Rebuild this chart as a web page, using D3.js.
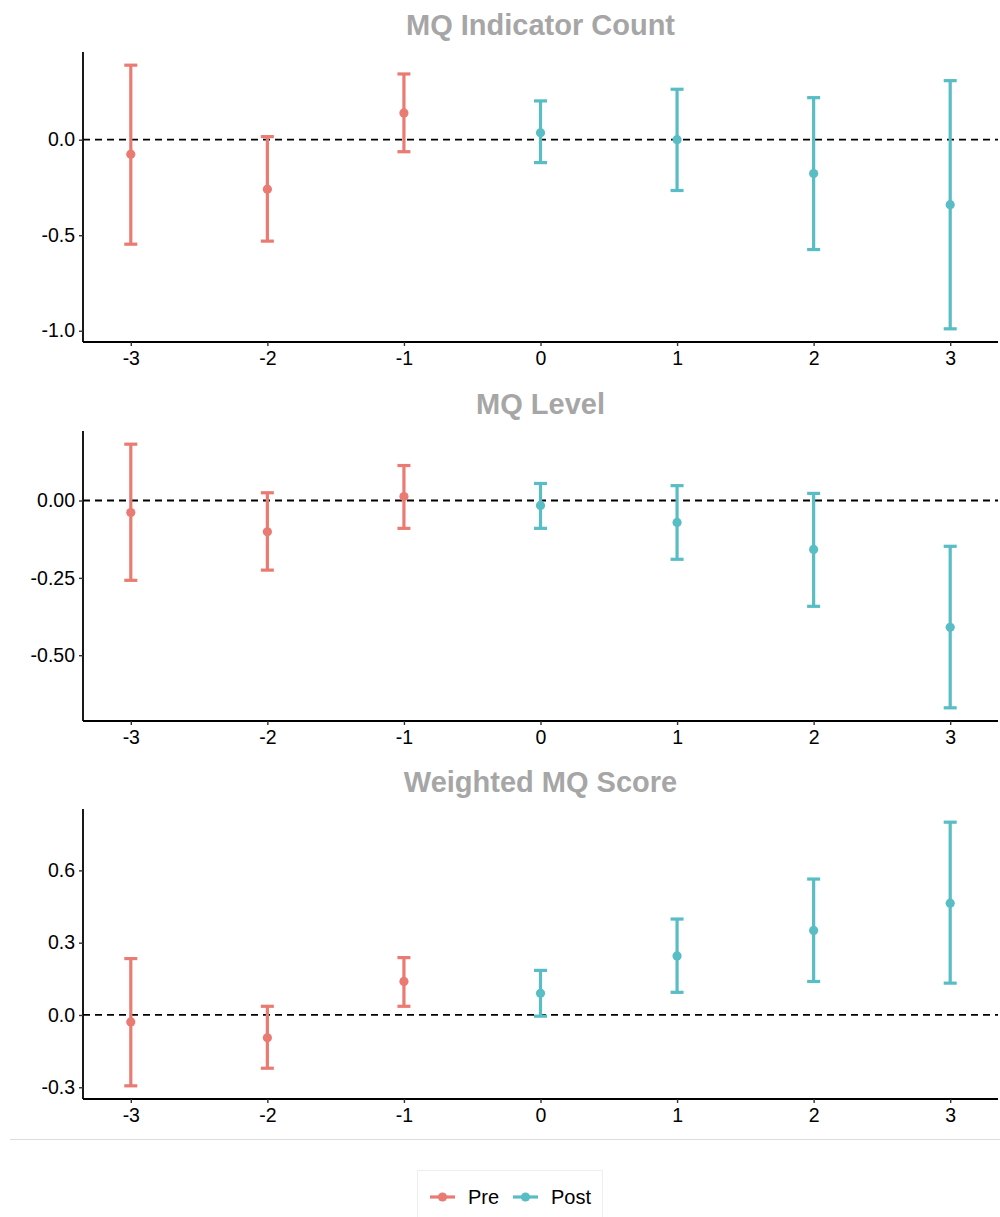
<!DOCTYPE html>
<html>
<head>
<meta charset="utf-8">
<script src="https://cdn.jsdelivr.net/npm/d3@7"></script>
<style>
  html, body { margin: 0; padding: 0; background: #fff; }
  svg { display: block; }
  text { font-family: "Liberation Sans", Arial, Helvetica, sans-serif; }
</style>
</head>
<body>
<svg id="chart" width="1000" height="1217"></svg>
<script>
// Event-time periods relative to treatment
const periods = [-3, -2, -1, 0, 1, 2, 3];
const phase = ["Pre", "Pre", "Pre", "Post", "Post", "Post", "Post"];

// MQ Indicator Count
const countEst   = [-0.076, -0.259, 0.140, 0.036, 0.000, -0.177, -0.340];
const countLower = [-0.547, -0.531, -0.063, -0.120, -0.266, -0.575, -0.990];
const countUpper = [0.390, 0.016, 0.344, 0.203, 0.264, 0.220, 0.309];
const countTicks = [0.0, -0.5, -1.0];

// MQ Level
const levelEst   = [-0.039, -0.101, 0.013, -0.016, -0.071, -0.158, -0.410];
const levelLower = [-0.258, -0.225, -0.090, -0.090, -0.190, -0.342, -0.670];
const levelUpper = [0.182, 0.025, 0.113, 0.055, 0.048, 0.023, -0.148];
const levelTicks = [0.00, -0.25, -0.50];

// Weighted MQ Score
const scoreEst   = [-0.029, -0.095, 0.139, 0.090, 0.245, 0.351, 0.464];
const scoreLower = [-0.294, -0.221, 0.036, -0.005, 0.094, 0.139, 0.132];
const scoreUpper = [0.234, 0.036, 0.238, 0.185, 0.398, 0.564, 0.800];
const scoreTicks = [0.6, 0.3, 0.0, -0.3];

const phaseColor = d3.scaleOrdinal().domain(["Pre", "Post"]).range(["#ea7b72", "#58bdc4"]);

// plain hyphen-minus for negative tick labels
const hyphen = f => v => f(v).replace("\u2212", "-");

const panels = [
  { title: "MQ Indicator Count", est: countEst, lo: countLower, hi: countUpper, ticks: countTicks, fmt: hyphen(d3.format(".1f")), top: 52, bottom: 342 },
  { title: "MQ Level", est: levelEst, lo: levelLower, hi: levelUpper, ticks: levelTicks, fmt: hyphen(d3.format(".2f")), top: 431, bottom: 721 },
  { title: "Weighted MQ Score", est: scoreEst, lo: scoreLower, hi: scoreUpper, ticks: scoreTicks, fmt: hyphen(d3.format(".1f")), top: 809, bottom: 1099 }
];

const svg = d3.select("#chart");
const left = 83, right = 998;

const x = d3.scalePoint().domain(periods).range([left, right]).padding(0.35);

panels.forEach(p => {
  const minV = d3.min(p.lo), maxV = d3.max(p.hi);
  const pad = (maxV - minV) * 0.05;
  const y = d3.scaleLinear().domain([minV - pad, maxV + pad]).range([p.bottom, p.top]);

  const g = svg.append("g");

  // panel title
  g.append("text")
    .attr("x", (left + right) / 2)
    .attr("y", p.top - 17)
    .attr("text-anchor", "middle")
    .attr("font-size", 29)
    .attr("font-weight", "bold")
    .attr("fill", "#a6a6a6")
    .text(p.title);

  // zero reference line
  g.append("line")
    .attr("x1", left).attr("x2", right)
    .attr("y1", y(0)).attr("y2", y(0))
    .attr("stroke", "#000")
    .attr("stroke-width", 1.8)
    .attr("stroke-dasharray", "7,5");

  const rows = periods.map((t, i) => ({ t, ph: phase[i], est: p.est[i], lo: p.lo[i], hi: p.hi[i] }));

  // confidence intervals
  const bars = g.append("g").selectAll("g").data(rows).join("g")
    .attr("stroke", d => phaseColor(d.ph))
    .attr("stroke-width", 3.2)
    .attr("fill", "none");
  bars.append("line")
    .attr("x1", d => x(d.t)).attr("x2", d => x(d.t))
    .attr("y1", d => y(d.lo)).attr("y2", d => y(d.hi));
  bars.append("line")
    .attr("x1", d => x(d.t) - 6.5).attr("x2", d => x(d.t) + 6.5)
    .attr("y1", d => y(d.lo)).attr("y2", d => y(d.lo));
  bars.append("line")
    .attr("x1", d => x(d.t) - 6.5).attr("x2", d => x(d.t) + 6.5)
    .attr("y1", d => y(d.hi)).attr("y2", d => y(d.hi));

  // point estimates
  g.append("g").selectAll("circle").data(rows).join("circle")
    .attr("cx", d => x(d.t))
    .attr("cy", d => y(d.est))
    .attr("r", 4.6)
    .attr("fill", d => phaseColor(d.ph));

  // axes
  const yAxis = g.append("g")
    .attr("transform", `translate(${left},0)`)
    .call(d3.axisLeft(y).tickValues(p.ticks).tickFormat(p.fmt).tickSize(4).tickPadding(4));
  yAxis.select(".domain").attr("d", `M0,${p.top}V${p.bottom}`);

  const xAxis = g.append("g")
    .attr("transform", `translate(0,${p.bottom})`)
    .call(d3.axisBottom(x).tickSize(4).tickPadding(5).tickFormat(d => String(d)));
  xAxis.select(".domain").attr("d", `M${left},0H${right}`);

  [yAxis, xAxis].forEach(a => {
    a.attr("font-size", 19.5).attr("font-family", "Liberation Sans, Arial, sans-serif");
    a.selectAll(".domain").attr("stroke", "#000").attr("stroke-width", 1.8);
    a.selectAll(".tick line").attr("stroke", "#333").attr("stroke-width", 1.4);
    a.selectAll(".tick text").attr("fill", "#000");
  });
});

// separator above the legend
svg.append("line")
  .attr("x1", 10).attr("x2", 1000)
  .attr("y1", 1139.5).attr("y2", 1139.5)
  .attr("stroke", "#dcdcdc").attr("stroke-width", 1);

// legend
const legend = svg.append("g");
legend.append("rect")
  .attr("x", 417.5).attr("y", 1170.5)
  .attr("width", 185).attr("height", 60)
  .attr("fill", "#fff").attr("stroke", "#eeeeee").attr("stroke-width", 1);

const legendItems = [
  { key: "Pre", x0: 430, tx: 468 },
  { key: "Post", x0: 513, tx: 551 }
];
const li = legend.selectAll("g.item").data(legendItems).join("g").attr("class", "item");
li.append("line")
  .attr("x1", d => d.x0).attr("x2", d => d.x0 + 25)
  .attr("y1", 1197).attr("y2", 1197)
  .attr("stroke", d => phaseColor(d.key)).attr("stroke-width", 3.2);
li.append("circle")
  .attr("cx", d => d.x0 + 12.5).attr("cy", 1197).attr("r", 4.6)
  .attr("fill", d => phaseColor(d.key));
li.append("text")
  .attr("x", d => d.tx).attr("y", 1204)
  .attr("font-size", 20)
  .attr("fill", "#000")
  .text(d => d.key);
</script>
</body>
</html>
